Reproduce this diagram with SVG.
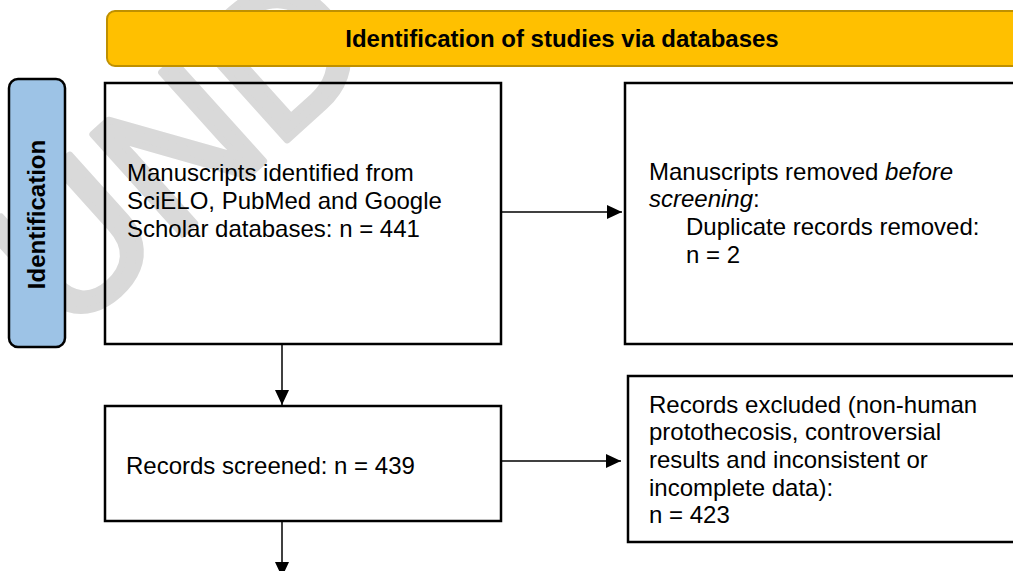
<svg xmlns="http://www.w3.org/2000/svg" width="1013" height="571" viewBox="0 0 1013 571">
<defs>
<style>
.t{font-family:"Liberation Sans",Arial,sans-serif;font-size:24px;fill:#000}
.b{font-weight:bold}
.box{fill:none;stroke:#000;stroke-width:2.5}
.ln{stroke:#000;stroke-width:1.5;fill:none}
.wm{font-family:"Liberation Sans",Arial,sans-serif;font-size:195px;fill:#d9d9d9;stroke:#d9d9d9;stroke-width:7;stroke-linejoin:round}
</style>
<marker id="ah" markerWidth="15" markerHeight="14" refX="15" refY="7" orient="auto" markerUnits="userSpaceOnUse" viewBox="0 0 15 14">
<path d="M0,0 L15,7 L0,14 z" fill="#000"/>
</marker>
</defs>
<rect width="1013" height="571" fill="#fff"/>
<g id="watermark">
<text class="wm" transform="translate(66,339) rotate(-42)">UND</text>
</g>
<g id="header">
<rect x="107" y="11" width="920" height="55" rx="8" fill="#FFC000" stroke="#BF9000" stroke-width="2"/>
<text class="t b" x="562" y="47" text-anchor="middle">Identification of studies via databases</text>
</g>
<g id="stage">
<rect x="9" y="79" width="56" height="268" rx="9" fill="#9DC3E6" stroke="#000" stroke-width="2.5"/>
<text class="t b" transform="translate(45,214.5) rotate(-90)" text-anchor="middle">Identification</text>
</g>
<g id="identified">
<rect class="box" x="105" y="83" width="396" height="261"/>
<text class="t" x="127" y="181">Manuscripts identified from</text>
<text class="t" x="127" y="209">SciELO, PubMed and Google</text>
<text class="t" x="127" y="237">Scholar databases: n = 441</text>
</g>
<g id="removed">
<rect class="box" x="625" y="83" width="400" height="261"/>
<text class="t" x="649" y="180">Manuscripts removed <tspan font-style="italic">before</tspan></text>
<text class="t" x="649" y="207"><tspan font-style="italic">screening</tspan>:</text>
<text class="t" x="686" y="235">Duplicate records removed:</text>
<text class="t" x="686" y="263">n = 2</text>
</g>
<g id="screened">
<rect class="box" x="105" y="406" width="396" height="115"/>
<text class="t" x="126" y="474">Records screened: n = 439</text>
</g>
<g id="excluded">
<rect class="box" x="628" y="376" width="400" height="166"/>
<text class="t" x="649" y="413">Records excluded (non-human</text>
<text class="t" x="649" y="440">protothecosis, controversial</text>
<text class="t" x="649" y="468">results and inconsistent or</text>
<text class="t" x="649" y="496">incomplete data):</text>
<text class="t" x="649" y="523">n = 423</text>
</g>
<g id="connectors">
<line class="ln" x1="502" y1="212" x2="622" y2="212" marker-end="url(#ah)"/>
<line class="ln" x1="282" y1="345" x2="282" y2="405" marker-end="url(#ah)"/>
<line class="ln" x1="502" y1="461" x2="621" y2="461" marker-end="url(#ah)"/>
<line class="ln" x1="282" y1="522" x2="282" y2="577" marker-end="url(#ah)"/>
</g>
</svg>
